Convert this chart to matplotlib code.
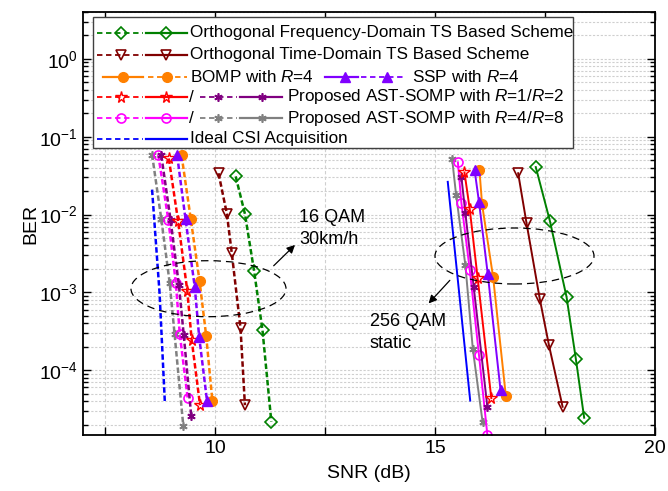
import numpy as np
import matplotlib
matplotlib.use("Agg")
import matplotlib.pyplot as plt
from matplotlib.patches import Ellipse, Rectangle
from matplotlib.lines import Line2D
from matplotlib.ticker import FixedLocator, FuncFormatter, LogLocator, NullFormatter

plt.rcParams['font.family'] = ['Liberation Sans', 'DejaVu Sans']
plt.rcParams['mathtext.fontset'] = 'custom'
plt.rcParams['mathtext.rm'] = 'Liberation Sans'
plt.rcParams['mathtext.it'] = 'Liberation Sans:italic'

# ---------------- data: 16 QAM, 30 km/h (dashed) ----------------
ofdm16_snr = [10.47, 10.68, 10.89, 11.08, 11.28]
ofdm16_ber = [3.09e-2, 1.02e-2, 1.86e-3, 3.24e-4, 2.19e-5]
otd16_snr = [10.08, 10.27, 10.38, 10.58, 10.68]
otd16_ber = [3.39e-2, 1.02e-2, 3.24e-3, 3.47e-4, 3.55e-5]
bomp16_snr = [9.24, 9.45, 9.65, 9.80, 9.94]
bomp16_ber = [5.75e-2, 8.71e-3, 1.38e-3, 2.75e-4, 4.07e-5]
ssp16_snr = [9.14, 9.33, 9.54, 9.64, 9.82]
ssp16_ber = [5.75e-2, 8.71e-3, 1.17e-3, 2.69e-4, 3.98e-5]
ast1_16_snr = [8.95, 9.16, 9.37, 9.47, 9.66]
ast1_16_ber = [5.25e-2, 8.32e-3, 1.05e-3, 2.45e-4, 3.55e-5]
ast2_16_snr = [8.78, 8.99, 9.18, 9.29, 9.46]
ast2_16_ber = [5.75e-2, 8.51e-3, 1.23e-3, 2.82e-4, 2.57e-5]
ast4_16_snr = [8.71, 8.94, 9.11, 9.20, 9.38]
ast4_16_ber = [5.89e-2, 8.51e-3, 1.32e-3, 2.88e-4, 4.37e-5]
ast8_16_snr = [8.57, 8.78, 8.97, 9.08, 9.28]
ast8_16_ber = [5.89e-2, 8.71e-3, 1.32e-3, 2.95e-4, 1.91e-5]
ideal16_snr = [8.57, 8.74, 8.86]
ideal16_ber = [2.09e-2, 9.8e-4, 3.89e-5]

# ---------------- data: 256 QAM, static (solid) ----------------
ofdm256_snr = [17.29, 17.61, 17.99, 18.20, 18.39]
ofdm256_ber = [4.07e-2, 8.32e-3, 8.71e-4, 1.41e-4, 2.45e-5]
otd256_snr = [16.89, 17.08, 17.38, 17.59, 17.90]
otd256_ber = [3.39e-2, 7.76e-3, 8.32e-4, 2.09e-4, 3.39e-5]
bomp256_snr = [16.01, 16.07, 16.32, 16.61]
bomp256_ber = [3.72e-2, 1.35e-2, 1.58e-3, 4.68e-5]
ssp256_snr = [15.90, 16.00, 16.20, 16.49]
ssp256_ber = [3.72e-2, 1.45e-2, 1.70e-3, 5.50e-5]
ast1_256_snr = [15.67, 15.79, 15.97, 16.28]
ast1_256_ber = [3.47e-2, 1.17e-2, 1.51e-3, 4.37e-5]
ast2_256_snr = [15.60, 15.69, 15.88, 16.19]
ast2_256_ber = [3.02e-2, 1.05e-2, 1.17e-3, 3.39e-5]
ast4_256_snr = [15.52, 15.60, 15.79, 16.00, 16.19]
ast4_256_ber = [4.68e-2, 1.41e-2, 1.95e-3, 1.55e-4, 1.48e-5]
ast8_256_snr = [15.39, 15.48, 15.69, 15.86, 16.08]
ast8_256_ber = [5.13e-2, 1.78e-2, 2.24e-3, 1.86e-4, 2.19e-5]
ideal256_snr = [15.29, 15.80]
ideal256_ber = [2.63e-2, 4.07e-5]

x_ticks = [7.5, 10, 12.5, 15, 17.5, 20]
x_labels = {10: "10", 15: "15", 20: "20"}

# ---------------- styles ----------------
AST = (6, 2, 0)
styles = {
    'ofdm': dict(color='#008000', marker='D', ms=6, mfc='none', mew=1.2),
    'otd': dict(color='#800000', marker='v', ms=7.5, mfc='none', mew=1.2),
    'bomp': dict(color='#ff8000', marker='o', ms=7, mfc='#ff8000', mew=1.0),
    'ssp': dict(color='#8000ff', marker='^', ms=7.5, mfc='#8000ff', mew=1.0),
    'ast1': dict(color='#ff0000', marker='*', ms=8.5, mfc='none', mew=1.0),
    'ast2': dict(color='#800080', marker=AST, ms=6, mfc='none', mew=1.2),
    'ast4': dict(color='#ff00ff', marker='o', ms=6.5, mfc='none', mew=1.2),
    'ast8': dict(color='#808080', marker=AST, ms=6, mfc='none', mew=1.2),
    'ideal': dict(color='#0000ff', marker=None),
}
DASH = (2.2, 1.1)
LW_D = 1.8
LW_S = 1.4
LEG_FS = 12.3

fig = plt.figure(figsize=(6.68, 4.91), dpi=100)
ax = fig.add_axes([83/668, 56/491, 572/668, 423/491])

series16 = [
    ('ideal', ideal16_snr, ideal16_ber), ('ast8', ast8_16_snr, ast8_16_ber),
    ('ast4', ast4_16_snr, ast4_16_ber), ('ast2', ast2_16_snr, ast2_16_ber),
    ('ast1', ast1_16_snr, ast1_16_ber), ('bomp', bomp16_snr, bomp16_ber),
    ('ssp', ssp16_snr, ssp16_ber), ('otd', otd16_snr, otd16_ber),
    ('ofdm', ofdm16_snr, ofdm16_ber),
]
series256 = [
    ('ideal', ideal256_snr, ideal256_ber), ('ast8', ast8_256_snr, ast8_256_ber),
    ('ast4', ast4_256_snr, ast4_256_ber), ('ast2', ast2_256_snr, ast2_256_ber),
    ('ast1', ast1_256_snr, ast1_256_ber), ('bomp', bomp256_snr, bomp256_ber),
    ('ssp', ssp256_snr, ssp256_ber), ('otd', otd256_snr, otd256_ber),
    ('ofdm', ofdm256_snr, ofdm256_ber),
]
for key, x, y in series16:
    ax.plot(x, y, linestyle=(0, DASH), lw=LW_D, **styles[key])
for key, x, y in series256:
    ax.plot(x, y, linestyle='-', lw=LW_S, **styles[key])

ax.set_yscale('log')
ax.set_xlim(7, 20)
ax.set_ylim(1.47e-5, 4.0)
ax.xaxis.set_major_locator(FixedLocator(x_ticks))
ax.xaxis.set_major_formatter(FuncFormatter(lambda v, p: x_labels.get(int(v), "") if float(v).is_integer() else ""))
ax.yaxis.set_major_locator(LogLocator(base=10, numticks=20))
ax.yaxis.set_minor_locator(LogLocator(base=10, subs=np.arange(2, 10), numticks=20))
ax.yaxis.set_minor_formatter(NullFormatter())

ax.grid(True, which='major', axis='x', color='#cfcfcf', linestyle=(0, (3, 2)), lw=0.8)
ax.grid(True, which='both', axis='y', color='#cfcfcf', linestyle=(0, (2, 1.5)), lw=0.8)
ax.set_axisbelow(True)

ax.tick_params(which='both', direction='in', top=True, right=True, width=1.0, labelsize=14)
ax.tick_params(which='major', length=6)
ax.tick_params(which='minor', length=3.5)
for s in ax.spines.values():
    s.set_linewidth(1.3)

ax.set_xlabel('SNR (dB)', fontsize=14, labelpad=6)
ax.set_ylabel('BER', fontsize=14, labelpad=0)

# ---------------- annotations ----------------
def fx(px):
    return (px - 83) / 572

def fy(py):
    return (435 - py) / 423

ax.add_patch(Ellipse((fx(208.5), fy(288.7)), 155/572, 56/423, transform=ax.transAxes,
                     fill=False, ec='black', ls=(0, (6, 4)), lw=0.9, zorder=5))
ax.add_patch(Ellipse((fx(514.5), fy(256)), 159/572, 56/423, transform=ax.transAxes,
                     fill=False, ec='black', ls=(0, (6, 4)), lw=0.9, zorder=5))
ax.annotate('', xy=(fx(297), fy(243)), xytext=(fx(271.7), fy(267.7)), xycoords='axes fraction',
            arrowprops=dict(arrowstyle='-|>', color='black', lw=0.9, mutation_scale=12), zorder=6)
ax.annotate('', xy=(fx(426.7), fy(305.5)), xytext=(fx(451.7), fy(278.3)), xycoords='axes fraction',
            arrowprops=dict(arrowstyle='-|>', color='black', lw=0.9, mutation_scale=12), zorder=6)
ax.text(fx(299), fy(221.7), '16 QAM', transform=ax.transAxes, fontsize=13, va='baseline', ha='left')
ax.text(fx(299), fy(244.3), '30km/h', transform=ax.transAxes, fontsize=13, va='baseline', ha='left')
ax.text(fx(370), fy(326), '256 QAM', transform=ax.transAxes, fontsize=13, va='baseline', ha='left')
ax.text(fx(370), fy(348.3), 'static', transform=ax.transAxes, fontsize=13, va='baseline', ha='left')

# ---------------- custom legend ----------------
ax.add_patch(Rectangle((fx(93), fy(148)), fx(573) - fx(93), fy(17) - fy(148), transform=ax.transAxes,
                       fc='white', ec='#404040', lw=1.0, zorder=20, clip_on=False))

def sample(key, x0, x1, xm, py, dashed):
    st = dict(styles[key])
    ls = (0, (3.0, 2.0)) if dashed else '-'
    lw = 1.3 if dashed else 1.6
    ax.add_line(Line2D([fx(x0), fx(x1)], [fy(py), fy(py)], transform=ax.transAxes, color=st['color'],
                       ls=ls, lw=lw, zorder=21, clip_on=False))
    if st.get('marker') is not None:
        ax.add_line(Line2D([fx(xm)], [fy(py)], transform=ax.transAxes, color=st['color'], ls='none',
                           marker=st['marker'], ms=st['ms'], mfc=st['mfc'], mew=st['mew'],
                           zorder=22, clip_on=False))

def ltext(px, py, s):
    ax.text(fx(px), fy(py), s, transform=ax.transAxes, fontsize=LEG_FS, va='center', ha='left',
            zorder=23, clip_on=False)

rows = [32.5, 54.5, 76.5, 97, 118.3, 139]
sample('ofdm', 97, 143, 121, rows[0], True); sample('ofdm', 146, 187, 166, rows[0], False)
ltext(190, rows[0], 'Orthogonal Frequency-Domain TS Based Scheme')
sample('otd', 97, 143, 121, rows[1], True); sample('otd', 146, 187, 166, rows[1], False)
ltext(190, rows[1], 'Orthogonal Time-Domain TS Based Scheme')
sample('bomp', 103, 143, 123, rows[2], False); sample('bomp', 148, 187, 167, rows[2], True)
ltext(190, rows[2], 'BOMP with $R$=4')
sample('ssp', 325, 358, 345, rows[2], False); sample('ssp', 361, 405, 387, rows[2], True)
ltext(412, rows[2], 'SSP with $R$=4')
sample('ast1', 97, 143, 121, rows[3], True); sample('ast1', 146, 187, 166, rows[3], False)
ltext(189, rows[3], '/')
sample('ast2', 200, 237, 218, rows[3], True); sample('ast2', 240, 282, 262, rows[3], False)
ltext(287, rows[3], 'Proposed AST-SOMP with $R$=1/$R$=2')
sample('ast4', 97, 143, 121, rows[4], True); sample('ast4', 146, 187, 166, rows[4], False)
ltext(189, rows[4], '/')
sample('ast8', 200, 237, 218, rows[4], True); sample('ast8', 240, 282, 262, rows[4], False)
ltext(287, rows[4], 'Proposed AST-SOMP with $R$=4/$R$=8')
sample('ideal', 97, 143, 121, rows[5], True); sample('ideal', 146, 187, 166, rows[5], False)
ltext(190, rows[5], 'Ideal CSI Acquisition')

fig.savefig('out.png', dpi=100)
